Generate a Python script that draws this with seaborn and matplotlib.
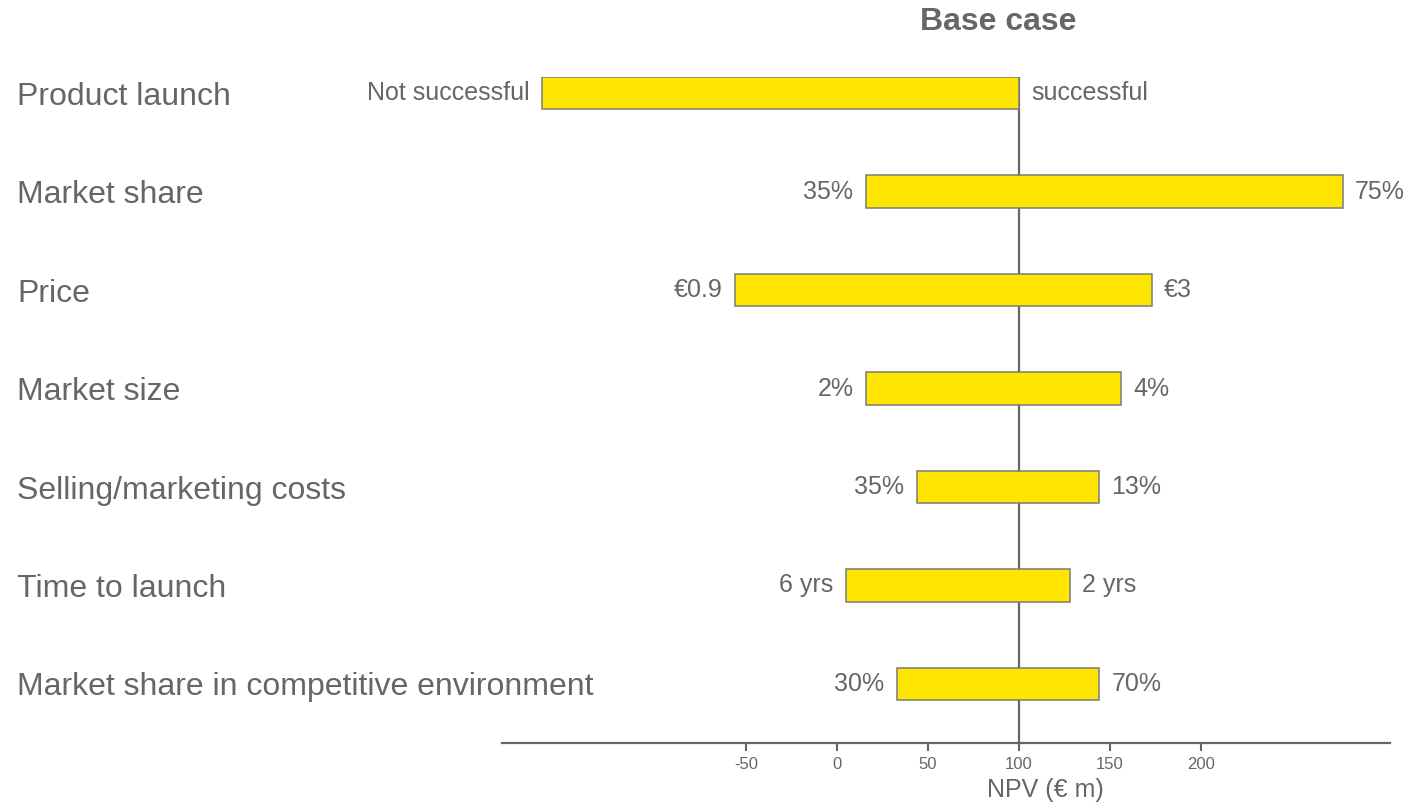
import matplotlib
matplotlib.use("Agg")
import matplotlib.pyplot as plt
import seaborn as sns
import pandas as pd

# ---- data ----
categories = ["Product launch", "Market share", "Price", "Market size",
              "Selling/marketing costs", "Time to launch",
              "Market share in competitive environment"]
low_values = [-162, 16, -56, 16, 44, 5, 33]
high_values = [100, 278, 173, 156, 144, 128, 144]
low_labels = ["Not successful", "35%", "€0.9", "2%", "35%", "6 yrs", "30%"]
high_labels = ["successful", "75%", "€3", "4%", "13%", "2 yrs", "70%"]
base_case = 100
x_ticks = [-50, 0, 50, 100, 150, 200]

GREY = "#666666"
YELLOW = "#FFE600"

sns.set_style("white")
plt.rcParams["font.family"] = ["Liberation Sans", "DejaVu Sans"]
plt.rcParams["axes.unicode_minus"] = False

df = pd.DataFrame({"factor": categories, "low": low_values, "high": high_values})

fig = plt.figure(figsize=(14.1, 8.1), dpi=100)
ax = fig.add_axes([502 / 1410, 1 - 743 / 810, 888 / 1410, (743 - 77) / 810])

sns.barplot(data=df, x="high", y="factor", orient="h", color=YELLOW,
            width=0.33, errorbar=None, ax=ax, zorder=3)

# turn bars into floating bars from low to high
for patch, lo, hi in zip(ax.patches, df["low"], df["high"]):
    patch.set_x(lo)
    patch.set_width(hi - lo)
    patch.set_facecolor(YELLOW)
    patch.set_edgecolor("#7a7a7a")
    patch.set_linewidth(1.1)

ax.axvline(base_case, color=GREY, lw=1.6, zorder=1)

ax.set_xlim(-184, 304)
ax.set_ylim(6.6, -0.165)

# value labels
for i, (lo, hi, ll, hl) in enumerate(zip(df["low"], df["high"], low_labels, high_labels)):
    ax.annotate(ll, xy=(lo, i), xytext=(-9, 0), textcoords="offset points",
                ha="right", va="center", fontsize=18, color=GREY)
    ax.annotate(hl, xy=(hi, i), xytext=(9, 0), textcoords="offset points",
                ha="left", va="center", fontsize=18, color=GREY)

# axes styling
for s in ["top", "right", "left"]:
    ax.spines[s].set_visible(False)
ax.spines["bottom"].set_color(GREY)
ax.spines["bottom"].set_linewidth(1.6)

# category labels, left aligned at figure left
ax.tick_params(axis="y", left=False, length=0, pad=349, labelsize=23,
               labelcolor=GREY)
for lab in ax.get_yticklabels():
    lab.set_horizontalalignment("left")

ax.set_ylabel("")
ax.set_xlabel("NPV (€ m)", fontsize=18, color=GREY)
ax.xaxis.set_label_coords((1045 - 502) / 888, -0.052)

ax.set_axisbelow(False)
ax.set_xticks(x_ticks)
ax.tick_params(axis="x", which="major", bottom=True, length=6, width=1.5,
               color=GREY, labelsize=12, labelcolor=GREY, pad=4)

fig.text(998 / 1410, 1 - 22 / 810, "Base case", ha="center", va="center",
         fontsize=23, fontweight="bold", color=GREY)

fig.savefig("out.png", dpi=100)
